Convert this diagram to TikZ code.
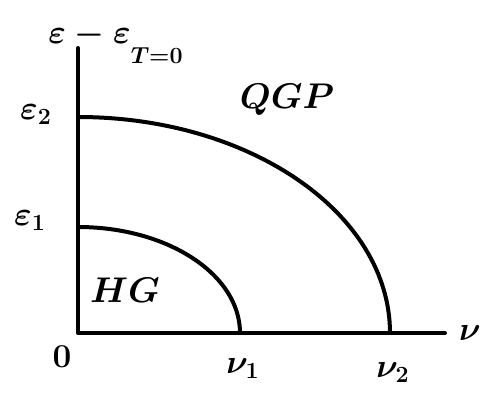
\documentclass[tikz,border=0pt]{standalone}
\usepackage{amsmath}
\usepackage{tikz}

\begin{document}
\begin{tikzpicture}[x=0.75pt,y=0.75pt,
     curve/.style={line width=3pt,line cap=round,line join=round},
     lab/.style={font=\LARGE\boldmath,scale=1.45},
     big/.style={font=\LARGE\boldmath,scale=1.55}]
    \useasboundingbox (0,0) rectangle (489,405);
    \coordinate (O) at (78,72);
    \coordinate (ytop) at (78,357);
    \coordinate (xend) at (445,72);
    \coordinate (e1) at (78,178);
    \coordinate (e2) at (78,288);
    \draw[curve] (ytop) -- (O) -- (xend);
    \draw[curve] (e1) arc[start angle=90,end angle=0,x radius=162,y radius=106] coordinate (n1);
    \draw[curve] (e2) arc[start angle=90,end angle=0,x radius=312,y radius=216] coordinate (n2);
    \node[lab] (yax) at (116,362) {$\varepsilon-\varepsilon_{\raisebox{-8pt}{$\scriptstyle T=0$}}$};
    \node[lab] (le2) at (36,290) {$\varepsilon_2$};
    \node[lab] (le1) at (30,184) {$\varepsilon_1$};
    \node[lab] (lo) at (62,48) {$0$};
    \node[lab] (ln1) at (243,36) {$\nu_1$};
    \node[lab] (ln2) at (393,32) {$\nu_2$};
    \node[lab] (lnu) at (470,72) {$\nu$};
    \node[big] (qgp) at (287,305) {$QGP$};
    \node[big] (hg) at (125,115) {$HG$};
  \end{tikzpicture}
\end{document}
